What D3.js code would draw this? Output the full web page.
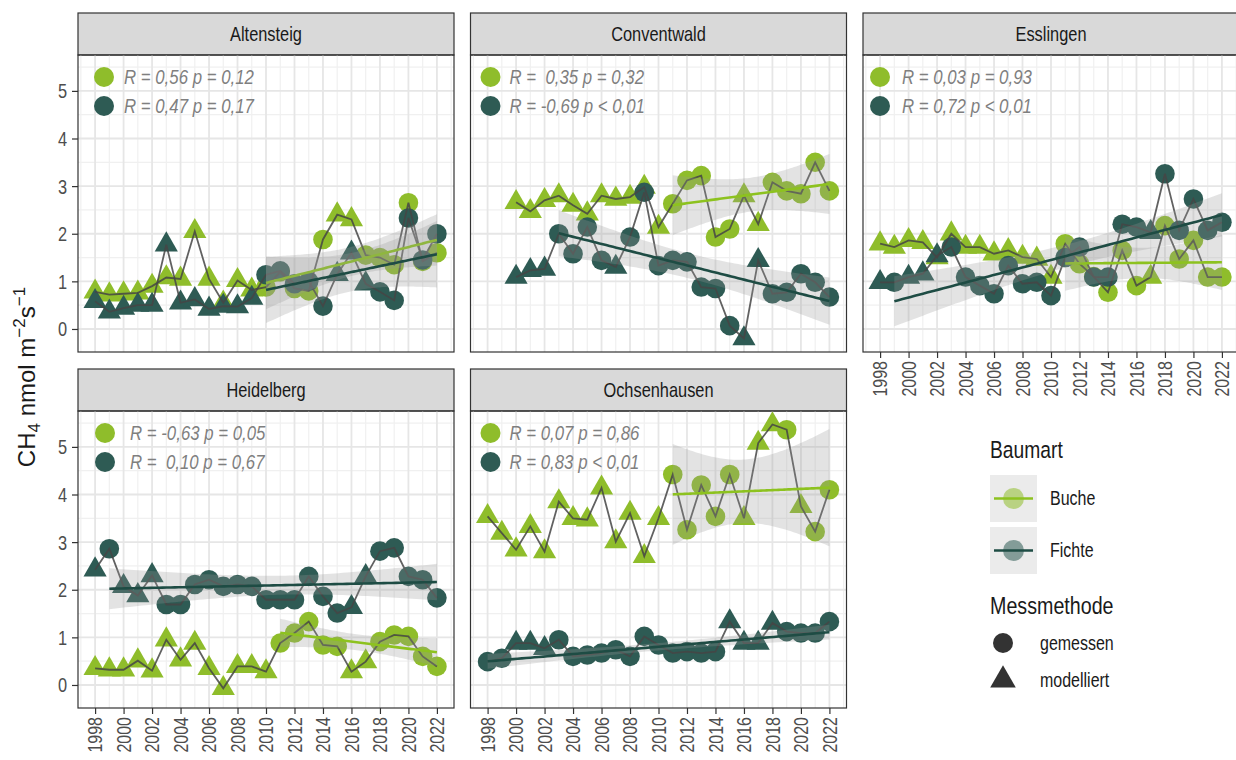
<!DOCTYPE html>
<html>
<head>
<meta charset="utf-8">
<script src="https://cdn.jsdelivr.net/npm/d3@7"></script>
<style>
  body { margin: 0; background: #fff; }
  svg { display: block; }
  text { font-family: "Liberation Sans", Arial, sans-serif; }
</style>
</head>
<body>
<svg id="chart" width="1236" height="760"></svg>
<script>
// ---- data -------------------------------------------------------------
const years = [1998, 1999, 2000, 2001, 2002, 2003, 2004, 2005, 2006, 2007, 2008, 2009, 2010,
               2011, 2012, 2013, 2014, 2015, 2016, 2017, 2018, 2019, 2020, 2021, 2022];
const xTickYears = [1998, 2000, 2002, 2004, 2006, 2008, 2010, 2012, 2014, 2016, 2018, 2020, 2022];
const yTicks = [0, 1, 2, 3, 4, 5];
const sites = ["Altensteig", "Conventwald", "Esslingen", "Heidelberg", "Ochsenhausen"];
const speciesNames = ["Buche", "Fichte"];
const methodNames = ["gemessen", "modelliert"];

// CH4 uptake, nmol m-2 s-1 (null = no value). Method codes: g = gemessen, m = modelliert
const altensteigBuche  = [0.78, 0.72, 0.74, 0.76, 0.90, 1.08, 1.05, 2.05, 1.05, 0.55, 1.02, 0.82, 0.88, 1.20, 0.85, 0.80, 1.88, 2.40, 2.30, 1.55, 1.50, 1.35, 2.65, 1.42, 1.60];
const altensteigBucheM = "mmmmmmmmmmmmgggggmmgggggg";
const altensteigFichte  = [0.58, 0.36, 0.44, 0.50, 0.50, 1.77, 0.55, 0.62, 0.42, 0.48, 0.47, 0.65, 1.14, 1.22, 0.95, 1.00, 0.48, 1.15, 1.60, 0.95, 0.78, 0.60, 2.33, 1.45, 2.00];
const altensteigFichteM = "mmmmmmmmmmmmgggggmmmggggg";

const conventwaldBuche  = [null, null, 2.66, 2.47, 2.70, 2.80, 2.60, 2.42, 2.80, 2.73, 2.77, 2.98, 2.14, 2.63, 3.12, 3.22, 1.93, 2.10, 2.80, 2.20, 3.08, 2.90, 2.84, 3.50, 2.90];
const conventwaldBucheM = "--mmmmmmmmmmmgggggmmggggg";
const conventwaldFichte  = [null, null, 1.09, 1.23, 1.26, 2.00, 1.58, 2.14, 1.44, 1.30, 1.93, 2.87, 1.33, 1.44, 1.41, 0.88, 0.85, 0.07, -0.20, 1.44, 0.74, 0.77, 1.16, 0.98, 0.67];
const conventwaldFichteM = "--mmmggggmggggggggmmggggg";

const esslingenBuche  = [1.79, 1.72, 1.86, 1.82, 1.50, 2.00, 1.72, 1.72, 1.58, 1.65, 1.51, 1.47, 1.09, 1.79, 1.37, 1.10, 0.77, 1.65, 0.91, 1.09, 2.17, 1.47, 1.86, 1.09, 1.09];
const esslingenBucheM = "mmmmmmmmmmmmmggggggmggggg";
const esslingenFichte  = [0.98, 0.98, 1.09, 1.16, 1.54, 1.72, 1.09, 0.91, 0.74, 1.33, 0.95, 0.98, 0.70, 1.50, 1.72, 1.09, 1.09, 2.20, 2.14, 2.03, 3.26, 2.07, 2.73, 2.07, 2.24];
const esslingenFichteM = "mgmmmggggggggggggggmggggg";

const heidelbergBuche  = [0.35, 0.32, 0.32, 0.51, 0.30, 0.95, 0.53, 0.88, 0.35, -0.07, 0.39, 0.39, 0.28, 0.88, 1.09, 1.33, 0.84, 0.81, 0.28, 0.49, 0.91, 1.05, 1.02, 0.60, 0.39];
const heidelbergBucheM = "mmmmmmmmmmmmmgggggmmggggg";
const heidelbergFichte  = [2.42, 2.86, 2.07, 1.88, 2.30, 1.69, 1.69, 2.11, 2.21, 2.07, 2.11, 2.07, 1.79, 1.79, 1.79, 2.28, 1.86, 1.51, 1.63, 2.28, 2.81, 2.88, 2.28, 2.21, 1.83];
const heidelbergFichteM = "mgmmmgggggggggggggmmggggg";

const ochsenhausenBuche  = [3.54, 3.19, 2.84, 3.33, 2.80, 3.85, 3.50, 3.47, 4.14, 3.01, 3.61, 2.70, 3.50, 4.42, 3.26, 4.20, 3.54, 4.42, 3.50, 5.08, 5.47, 5.36, 3.75, 3.22, 4.10];
const ochsenhausenBucheM = "mmmmmmmmmmmmmgggggmmmgmgg";
const ochsenhausenFichte  = [0.49, 0.56, 0.88, 0.88, 0.77, 0.95, 0.60, 0.63, 0.67, 0.74, 0.60, 1.02, 0.84, 0.67, 0.70, 0.67, 0.70, 1.33, 0.88, 0.88, 1.30, 1.12, 1.09, 1.09, 1.33];
const ochsenhausenFichteM = "ggmmmggggggggggggmmmmgggg";

// Pearson correlation labels per site (Buche, Fichte)
const corLabels = [
  ["R = 0,56 p = 0,12", "R = 0,47 p = 0,17"],
  ["R =  0,35 p = 0,32", "R = -0,69 p < 0,01"],
  ["R = 0,03 p = 0,93", "R = 0,72 p < 0,01"],
  ["R = -0,63 p = 0,05", "R =  0,10 p = 0,67"],
  ["R = 0,07 p = 0,86", "R = 0,83 p < 0,01"]
];

const seriesBySite = [
  [[altensteigBuche, altensteigBucheM], [altensteigFichte, altensteigFichteM]],
  [[conventwaldBuche, conventwaldBucheM], [conventwaldFichte, conventwaldFichteM]],
  [[esslingenBuche, esslingenBucheM], [esslingenFichte, esslingenFichteM]],
  [[heidelbergBuche, heidelbergBucheM], [heidelbergFichte, heidelbergFichteM]],
  [[ochsenhausenBuche, ochsenhausenBucheM], [ochsenhausenFichte, ochsenhausenFichteM]]
];

// ---- styling & layout ----------------------------------------------------
const pointColor = ["#8fbd2b", "#2e5b54"];
const fitColor   = ["#8dc21f", "#1e4c44"];
const pathColor  = "#454545";
const panelW = 376, stripH = 42, plotH = 297;
const colX = [78, 470.5, 863];
const rowY = [13, 369];
const panelPos = [[0, 0], [1, 0], [2, 0], [0, 1], [1, 1]];
const corDotDx = [26, 20, 17, 27, 20];
const corTextDx = [46, 39, 39, 52, 39];
const NARROW = 0.82;   // horizontal squeeze for a narrow sans look

// squeeze text horizontally around its own anchor point
function condense(sel) {
  sel.each(function () {
    const t = d3.select(this);
    const x0 = +t.attr("x") || 0;
    const tr = t.attr("transform") || "";
    t.attr("x", x0 / NARROW).attr("transform", `${tr} scale(${NARROW},1)`);
  });
  return sel;
}

const svg = d3.select("#chart");

// tidy records
const records = [];
seriesBySite.forEach((sp, si) => sp.forEach(([vals, meth], k) => {
  vals.forEach((v, i) => {
    if (v !== null) records.push({ site: si, species: k, year: years[i], value: v,
      method: meth[i] === "g" ? 0 : 1 });
  });
}));

// shared scales (5% expansion)
const yr = d3.extent(years);
const xPad = (yr[1] - yr[0]) * 0.05;
const x = d3.scaleLinear().domain([yr[0] - xPad, yr[1] + xPad]).range([0, panelW]);
const vr = d3.extent(records, d => d.value);
const yPad = (vr[1] - vr[0]) * 0.05;
const y = d3.scaleLinear().domain([vr[0] - yPad, vr[1] + yPad]).range([plotH, 0]);

// t quantile (0.975) via Cornish-Fisher expansion
function tq975(df) {
  const z = 1.959964;
  const g1 = (z ** 3 + z) / 4;
  const g2 = (5 * z ** 5 + 16 * z ** 3 + 3 * z) / 96;
  const g3 = (3 * z ** 7 + 19 * z ** 5 + 17 * z ** 3 - 15 * z) / 384;
  const g4 = (79 * z ** 9 + 776 * z ** 7 + 1482 * z ** 5 - 1920 * z ** 3 - 945 * z) / 92160;
  return z + g1 / df + g2 / df ** 2 + g3 / df ** 3 + g4 / df ** 4;
}

// linear model with 95% confidence band on measured values
function lmBand(pts) {
  const n = pts.length;
  const mx = d3.mean(pts, p => p.year), my = d3.mean(pts, p => p.value);
  const sxx = d3.sum(pts, p => (p.year - mx) ** 2);
  const sxy = d3.sum(pts, p => (p.year - mx) * (p.value - my));
  const b = sxy / sxx, a = my - b * mx;
  const rss = d3.sum(pts, p => (p.value - a - b * p.year) ** 2);
  const s = Math.sqrt(rss / (n - 2));
  const t = tq975(n - 2);
  const [x0, x1] = d3.extent(pts, p => p.year);
  const out = [];
  for (let i = 0; i <= 80; i++) {
    const xv = x0 + (x1 - x0) * i / 80;
    const fit = a + b * xv;
    const se = s * Math.sqrt(1 / n + (xv - mx) ** 2 / sxx);
    out.push({ year: xv, fit, lo: fit - t * se, hi: fit + t * se });
  }
  return out;
}

// filled triangle like R's pch 17
function trianglePath(R) {
  const r = 1.5551 * R, xc = 1.3468 * R, yc = 0.7776 * R;
  return `M0,${-r}L${xc},${yc}L${-xc},${yc}Z`;
}
const triPath = trianglePath(8.6);
const circleR = 9.8;

sites.forEach((site, si) => {
  const [c, r] = panelPos[si];
  const gx = colX[c], gy = rowY[r];
  const g = svg.append("g").attr("transform", `translate(${gx},${gy})`);

  // strip
  g.append("rect").attr("x", 0).attr("y", 0).attr("width", panelW).attr("height", stripH)
    .attr("fill", "#d9d9d9").attr("stroke", "#333").attr("stroke-width", 1.2);
  condense(g.append("text").attr("x", panelW / 2).attr("y", stripH / 2 + 7)
    .attr("text-anchor", "middle").attr("font-size", 20).attr("fill", "#1a1a1a").text(site));

  const p = g.append("g").attr("transform", `translate(0,${stripH})`);
  const clipId = "clip" + si;
  p.append("clipPath").attr("id", clipId).append("rect")
    .attr("width", panelW).attr("height", plotH);

  // grid
  const grid = p.append("g");
  const xMinor = d3.range(Math.ceil(x.domain()[0]), x.domain()[1], 1).filter(v => v % 2 !== 0);
  const yMinor = d3.range(-0.5, y.domain()[1], 1).filter(v => v > y.domain()[0]);
  grid.selectAll(".xm").data(xMinor).join("line")
    .attr("x1", d => x(d)).attr("x2", d => x(d)).attr("y1", 0).attr("y2", plotH)
    .attr("stroke", "#f0f0f0").attr("stroke-width", 1.2);
  grid.selectAll(".ym").data(yMinor).join("line")
    .attr("x1", 0).attr("x2", panelW).attr("y1", d => y(d)).attr("y2", d => y(d))
    .attr("stroke", "#f0f0f0").attr("stroke-width", 1.2);
  grid.selectAll(".xM").data(xTickYears).join("line")
    .attr("x1", d => x(d)).attr("x2", d => x(d)).attr("y1", 0).attr("y2", plotH)
    .attr("stroke", "#e6e6e6").attr("stroke-width", 1.8);
  grid.selectAll(".yM").data(yTicks).join("line")
    .attr("x1", 0).attr("x2", panelW).attr("y1", d => y(d)).attr("y2", d => y(d))
    .attr("stroke", "#e6e6e6").attr("stroke-width", 1.8);

  const body = p.append("g").attr("clip-path", `url(#${clipId})`);
  const siteRecs = records.filter(d => d.site === si);

  // points
  speciesNames.forEach((sp, k) => {
    const pts = siteRecs.filter(d => d.species === k);
    body.selectAll(null).data(pts.filter(d => d.method === 0)).join("circle")
      .attr("cx", d => x(d.year)).attr("cy", d => y(d.value)).attr("r", circleR)
      .attr("fill", pointColor[k]);
    body.selectAll(null).data(pts.filter(d => d.method === 1)).join("path")
      .attr("d", triPath)
      .attr("transform", d => `translate(${x(d.year)},${y(d.value)})`)
      .attr("fill", pointColor[k]);
  });

  // connecting lines
  const line = d3.line().x(d => x(d.year)).y(d => y(d.value));
  speciesNames.forEach((sp, k) => {
    const pts = siteRecs.filter(d => d.species === k);
    body.append("path").attr("d", line(pts)).attr("fill", "none")
      .attr("stroke", pathColor).attr("stroke-width", 1.8).attr("stroke-opacity", 0.85);
  });

  // linear trends on measured values
  speciesNames.forEach((sp, k) => {
    const meas = siteRecs.filter(d => d.species === k && d.method === 0);
    const band = lmBand(meas);
    body.append("path")
      .attr("d", d3.area().x(d => x(d.year)).y0(d => y(d.lo)).y1(d => y(d.hi))(band))
      .attr("fill", "#999").attr("fill-opacity", 0.27);
    body.append("path")
      .attr("d", d3.line().x(d => x(d.year)).y(d => y(d.fit))(band))
      .attr("fill", "none").attr("stroke", fitColor[k]).attr("stroke-width", 2.6);
  });

  // correlation labels
  corLabels[si].forEach((lab, k) => {
    const cy = 22 + k * 29;
    p.append("circle").attr("cx", corDotDx[si]).attr("cy", cy).attr("r", 10)
      .attr("fill", pointColor[k]);
    condense(p.append("text").attr("x", corTextDx[si]).attr("y", cy + 7.5)
      .attr("font-size", 20.5).attr("font-style", "italic").attr("fill", "#7f7f7f")
      .style("white-space", "pre").text(lab));
  });

  // panel border
  p.append("rect").attr("width", panelW).attr("height", plotH)
    .attr("fill", "none").attr("stroke", "#333").attr("stroke-width", 1.2);

  // y axis on first column
  if (c === 0) {
    const ya = p.append("g").call(d3.axisLeft(y).tickValues(yTicks).tickFormat(d3.format("d"))
      .tickSize(6).tickPadding(5));
    ya.select(".domain").remove();
    ya.selectAll("line").attr("stroke", "#333").attr("stroke-width", 1.2);
    const yl = ya.selectAll("text").attr("font-size", 20).attr("fill", "#4d4d4d")
      .attr("font-family", null).attr("dy", "0.35em");
    condense(yl);
  }
  // x axis where no panel sits below
  if (r === 1 || si === 2) {
    const xa = p.append("g").attr("transform", `translate(0,${plotH})`)
      .call(d3.axisBottom(x).tickValues(xTickYears).tickFormat(d3.format("d")).tickSize(6).tickPadding(4));
    xa.select(".domain").remove();
    xa.selectAll("line").attr("stroke", "#333").attr("stroke-width", 1.2);
    const xl = xa.selectAll("text").attr("font-size", 19.5).attr("fill", "#4d4d4d")
      .attr("font-family", null)
      .attr("transform", "rotate(-90)").attr("text-anchor", "end")
      .attr("x", -9).attr("y", 0).attr("dy", "0.35em");
    condense(xl);
  }
});

// y axis title
const yt = svg.append("text").attr("transform", "translate(35,377) rotate(-90)")
  .attr("text-anchor", "middle").attr("font-size", 24).attr("fill", "#1a1a1a");
yt.append("tspan").text("CH");
yt.append("tspan").attr("font-size", 17).attr("dy", 5).text("4");
yt.append("tspan").attr("dy", -5).text(" nmol m");
yt.append("tspan").attr("font-size", 17).attr("dy", -10).text("\u22122");
yt.append("tspan").attr("dy", 10).text("s");
yt.append("tspan").attr("font-size", 17).attr("dy", -10).text("\u22121");

// legends
const lg = svg.append("g");
condense(lg.append("text").attr("x", 990).attr("y", 458).attr("font-size", 23.5).attr("fill", "#1a1a1a").text("Baumart"));
speciesNames.forEach((sp, k) => {
  const ky = 475 + k * 52;
  lg.append("rect").attr("x", 990).attr("y", ky).attr("width", 47).attr("height", 47)
    .attr("fill", "#999").attr("fill-opacity", 0.2);
  lg.append("circle").attr("cx", 1013.5).attr("cy", ky + 23.5).attr("r", 10.5)
    .attr("fill", pointColor[k]).attr("fill-opacity", 0.55);
  lg.append("line").attr("x1", 994).attr("x2", 1033).attr("y1", ky + 23.5).attr("y2", ky + 23.5)
    .attr("stroke", fitColor[k]).attr("stroke-width", 2.6);
  condense(lg.append("text").attr("x", 1050).attr("y", ky + 30).attr("font-size", 19.5).attr("fill", "#1a1a1a").text(sp));
});
condense(lg.append("text").attr("x", 990).attr("y", 614).attr("font-size", 24).attr("fill", "#1a1a1a").text("Messmethode"));
methodNames.forEach((m, k) => {
  const ky = 643 + k * 37;
  if (k === 0) {
    lg.append("circle").attr("cx", 1003).attr("cy", ky).attr("r", 10).attr("fill", "#333");
  } else {
    lg.append("path").attr("d", trianglePath(9.5)).attr("transform", `translate(1003,${ky})`).attr("fill", "#333");
  }
  condense(lg.append("text").attr("x", 1040).attr("y", ky + 7).attr("font-size", 19.5).attr("fill", "#1a1a1a").text(m));
});
</script>
</body>
</html>
